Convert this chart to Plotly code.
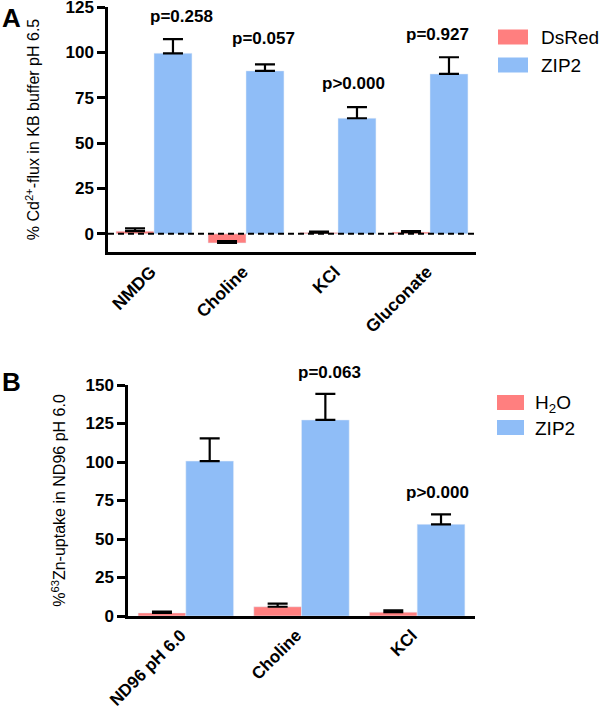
import plotly.graph_objects as go

# ---------------- data ----------------
cats_a = ["NMDG", "Choline", "KCl", "Gluconate"]
dsred_a = [1.5, -5.0, 0.7, 1.0]
dsred_err_a = [1.5, 1.0, 0.5, 0.5]
zip2_a = [99.5, 89.8, 63.7, 88.1]
zip2_err_a = [7.8, 3.6, 6.1, 9.2]
p_text_a = ["p=0.258", "p=0.057", "p>0.000", "p=0.927"]
p_y_a = [119.5, 107.4, 83.1, 110.1]

cats_b = ["ND96 pH 6.0", "Choline", "KCl"]
h2o_b = [2.0, 6.0, 2.5]
h2o_err_b = [0.8, 2.0, 1.2]
zip2_b = [100.6, 127.3, 59.5]
zip2_err_b = [14.8, 16.9, 6.5]
p_cats_b = ["Choline", "KCl"]
p_text_b = ["p=0.063", "p>0.000"]
p_y_b = [158.4, 79.9]

series_a = ["DsRed", "ZIP2"]
series_b = ["H<sub>2</sub>O", "ZIP2"]

# ---------------- style ----------------
RED = "#FF7F7F"
BLUE = "#8FBDF7"
FONT = "Liberation Sans, Arial, sans-serif"
W, H = 600, 706

def px_x(p):
    return p / W

def px_y(p):
    return 1 - p / H

fig = go.Figure()

def err(vals):
    return dict(type="data", symmetric=False, array=vals, arrayminus=[0] * len(vals),
                color="black", thickness=2.2, width=10)

fig.add_trace(go.Bar(x=cats_a, y=dsred_a, name=series_a[0], marker_color=RED,
                     error_y=err(dsred_err_a), xaxis="x", yaxis="y"))
fig.add_trace(go.Bar(x=cats_a, y=zip2_a, name=series_a[1], marker_color=BLUE,
                     error_y=err(zip2_err_a), xaxis="x", yaxis="y"))
fig.add_trace(go.Bar(x=cats_b, y=h2o_b, name=series_b[0], marker_color=RED,
                     error_y=err(h2o_err_b), xaxis="x2", yaxis="y2"))
fig.add_trace(go.Bar(x=cats_b, y=zip2_b, name=series_b[1], marker_color=BLUE,
                     error_y=err(zip2_err_b), xaxis="x2", yaxis="y2"))

tickfont = dict(family=FONT, size=17, color="black", weight="bold")
xtickfont = dict(family=FONT, size=17.5, color="black", weight="bold")
xtickfont_b = dict(family=FONT, size=17, color="black", weight="bold")
axis_common = dict(showline=True, linecolor="black", linewidth=2.5, showgrid=False,
                   zeroline=False, automargin=False, ticklabeloverflow="allow")

fig.update_layout(
    width=W, height=H,
    margin=dict(l=0, r=0, t=0, b=0),
    paper_bgcolor="white", plot_bgcolor="white",
    barmode="group", bargap=0.175, bargroupgap=0,
    font=dict(family=FONT, color="black"),
    showlegend=False,
    xaxis=dict(domain=[px_x(108), px_x(476)], anchor="y", tickangle=-45,
               ticks="", tickfont=xtickfont, ticklabelshift=-3, **axis_common),
    yaxis=dict(domain=[px_y(252), px_y(7)], anchor="x", range=[-10, 125],
               tick0=0, dtick=25, ticks="outside", ticklen=8, tickwidth=2.5,
               tickcolor="black", tickfont=tickfont,
               title=dict(text="% Cd<sup>2+</sup>-flux in KB buffer pH 6.5",
                          font=dict(family=FONT, size=16, color="black"), standoff=22),
               **axis_common),
    xaxis2=dict(domain=[px_x(128), px_x(475)], anchor="y2", tickangle=-45,
                ticks="", tickfont=xtickfont_b, ticklabelshift=-5, **axis_common),
    yaxis2=dict(domain=[px_y(616), px_y(385)], anchor="x2", range=[0, 150],
                tick0=0, dtick=25, ticks="outside", ticklen=8, tickwidth=2.5,
                tickcolor="black", tickfont=tickfont,
                title=dict(text="%<sup>63</sup>Zn-uptake in ND96 pH 6.0",
                           font=dict(family=FONT, size=16, color="black"), standoff=16),
                **axis_common),
)

# dashed zero line in panel A
fig.add_shape(type="line", xref="x domain", yref="y", x0=0, x1=1, y0=0, y1=0,
              line=dict(color="black", width=2, dash="6px,4px"))

pfont = dict(family=FONT, size=17, color="black", weight="bold")
a_shift = [27, 17, 15, 7]
for c, t, y, s in zip(cats_a, p_text_a, p_y_a, a_shift):
    fig.add_annotation(x=c, y=y, text=t, xref="x", yref="y", showarrow=False,
                       xshift=s, font=pfont)
b_shift = [28, 20]
ymax_b = 150
for c, t, y, s in zip(p_cats_b, p_text_b, p_y_b, b_shift):
    # keep the anchor inside the axis range, shift the text by the remainder
    ya = min(y, ymax_b)
    fig.add_annotation(x=c, y=ya, text=t, xref="x2", yref="y2", showarrow=False,
                       xshift=s, yshift=(y - ya) * 1.54, font=pfont)

# legends (swatch + label) for each panel
legfont = dict(family=FONT, size=19, color="black")
def legend(names, colors, x0, x1, tx, tops, centers):
    for n, col, top, cy in zip(names, colors, tops, centers):
        fig.add_shape(type="rect", xref="paper", yref="paper",
                      x0=px_x(x0), x1=px_x(x1), y0=px_y(top + 15), y1=px_y(top),
                      fillcolor=col, line=dict(width=0))
        fig.add_annotation(x=px_x(tx), y=px_y(cy), xref="paper", yref="paper",
                           text=n, showarrow=False, xanchor="left", yanchor="middle",
                           font=legfont)

legend(series_a, [RED, BLUE], 498, 528, 539, [29.5, 57.5], [37.5, 65])
legend(series_b, [RED, BLUE], 497, 524, 533, [395, 420], [404, 428.5])

# panel letters
fig.add_annotation(x=0, y=px_y(18), xref="paper", yref="paper", text="A",
                   showarrow=False, xanchor="left", yanchor="middle",
                   font=dict(family=FONT, size=26, color="black", weight="bold"))
fig.add_annotation(x=0, y=px_y(382), xref="paper", yref="paper", text="B",
                   showarrow=False, xanchor="left", yanchor="middle",
                   font=dict(family=FONT, size=26, color="black", weight="bold"))

fig.write_html("out.html", config={"displayModeBar": False},
               post_script="document.body.style.margin='0';document.body.style.overflow='hidden';")
